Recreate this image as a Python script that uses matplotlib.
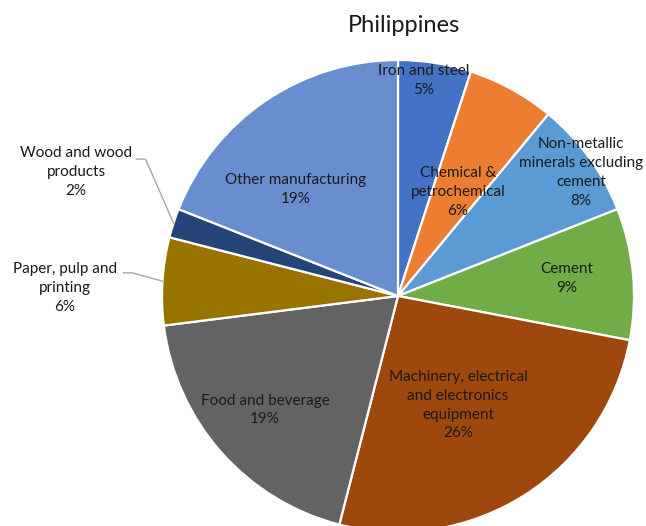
import matplotlib
matplotlib.use("Agg")
import matplotlib.pyplot as plt
import numpy as np

plt.rcParams['font.family'] = ['Lato', 'DejaVu Sans']

# Industry shares of final energy use
categories = [
    "Iron and steel",
    "Chemical &\npetrochemical",
    "Non-metallic\nminerals excluding\ncement",
    "Cement",
    "Machinery, electrical\nand electronics\nequipment",
    "Food and beverage",
    "Paper, pulp and\nprinting",
    "Wood and wood\nproducts",
    "Other manufacturing",
]
shares = [5, 6, 8, 9, 26, 19, 6, 2, 19]

colors = ["#4472C4", "#ED7D31", "#5B9BD5", "#70AD47", "#9E480E",
          "#636363", "#997300", "#264478", "#698ED0"]

# label centres, in pie-radius units relative to the pie centre
label_pos = [(0.11, 0.915), (0.254, 0.441), (0.775, 0.525), (0.716, 0.076),
             (0.254, -0.462), (-0.564, -0.483), (-1.411, 0.034),
             (-1.364, 0.525), (-0.432, 0.453)]
# slices whose labels sit outside get leader lines
leader = {6: (-1.125, 0.098), 7: (-1.07, 0.58)}

W, H = 646, 526
fig = plt.figure(figsize=(W / 100, H / 100), dpi=100)
ax = fig.add_axes([0, 0, 1, 1])
ax.set_xlim(0, W)
ax.set_ylim(0, H)
ax.set_aspect('equal')
ax.axis('off')

cx, cy, R = 398, H - 296, 236
wedges, _ = ax.pie(shares, colors=colors, startangle=90, counterclock=False,
                   center=(cx, cy), radius=R,
                   wedgeprops=dict(edgecolor='white', linewidth=1.6))
ax.set_xlim(0, W)
ax.set_ylim(0, H)

for i, (name, val) in enumerate(zip(categories, shares)):
    lx, ly = label_pos[i]
    tx, ty = cx + lx * R, cy + ly * R
    ax.text(tx, ty, f"{name}\n{val}%", ha='center', va='center',
            fontsize=11, color='#1a1a1a', linespacing=1.45)
    if i in leader:
        w = wedges[i]
        mid = np.deg2rad((w.theta1 + w.theta2) / 2)
        ex, ey = cx + R * np.cos(mid), cy + R * np.sin(mid)
        kx, ky = leader[i]
        kx, ky = cx + kx * R, cy + ky * R
        ax.plot([kx - 9, kx, ex], [ky, ky, ey], color='#A6A6A6', lw=1.0)

ax.text(404, H - 25, "Philippines", ha='center', va='center',
        fontsize=17, color='#1a1a1a')

fig.savefig("out.png", dpi=100)
